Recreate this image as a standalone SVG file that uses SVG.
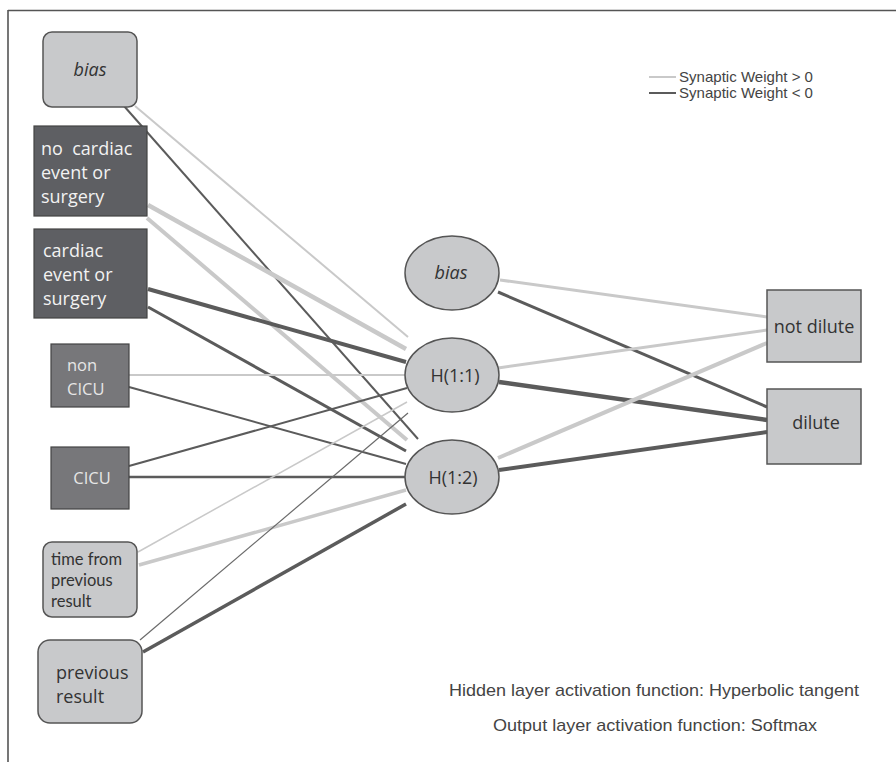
<svg xmlns="http://www.w3.org/2000/svg" width="896" height="762" viewBox="0 0 896 762">
<style>
.pos{stroke:#c9c9c9;fill:none;stroke-linecap:butt}
.neg{stroke:#5b5b5b;fill:none;stroke-linecap:butt}
.lt{fill:#c8c9cb;stroke:#555;stroke-width:1.5}
.dk{fill:#5e5f63;stroke:#444;stroke-width:1.2}
.md{fill:#77777a;stroke:#444;stroke-width:1.2}
.t{font-family:"Open Sans","Noto Sans",sans-serif;font-size:18px;fill:#333}
.ts{font-family:Lato,"Open Sans",sans-serif;font-size:16.5px;fill:#333}
.tw{font-family:"Open Sans","Noto Sans",sans-serif;font-size:18px;fill:#f2f2f2}
.tl{font-family:"Open Sans","Noto Sans",sans-serif;font-size:16.5px;fill:#e6e6e6}
.a{font-family:"Liberation Sans",Arial,sans-serif;fill:#444}
</style>
<rect width="896" height="762" fill="#fff"/>
<path d="M8 10.5H896M8 10V762" stroke="#555" stroke-width="1.6" fill="none"/>
<g id="connectors">
<line class="neg" x1="124" y1="106" x2="418" y2="439" stroke-width="2"/>
<line class="pos" x1="135" y1="106" x2="408" y2="337" stroke-width="2"/>
<line class="pos" x1="148" y1="205" x2="406" y2="349" stroke-width="4.5"/>
<line class="pos" x1="147" y1="218" x2="407" y2="440" stroke-width="4"/>
<line class="neg" x1="148" y1="289" x2="406" y2="362" stroke-width="4"/>
<line class="neg" x1="148" y1="307" x2="406" y2="451" stroke-width="3"/>
<line class="pos" x1="129" y1="375" x2="406" y2="375" stroke-width="2"/>
<line class="neg" x1="129" y1="387" x2="406" y2="464" stroke-width="2"/>
<line class="neg" x1="129" y1="466" x2="407" y2="388" stroke-width="2"/>
<line class="neg" x1="129" y1="477" x2="406" y2="477" stroke-width="2.5"/>
<line class="pos" x1="138" y1="552" x2="407" y2="402" stroke-width="1.5"/>
<line class="pos" x1="139" y1="565" x2="406" y2="490" stroke-width="3.5"/>
<line class="neg" x1="140" y1="640" x2="408" y2="413" stroke-width="1.2" style="stroke:#6a6a6a"/>
<line class="neg" x1="143" y1="652" x2="406" y2="504" stroke-width="3.5"/>
<line class="pos" x1="500" y1="280" x2="767" y2="317" stroke-width="3"/>
<line class="neg" x1="498" y1="292" x2="767" y2="407" stroke-width="3"/>
<line class="pos" x1="498" y1="368" x2="767" y2="330" stroke-width="3"/>
<line class="neg" x1="499" y1="382" x2="767" y2="420" stroke-width="4.5"/>
<line class="pos" x1="498" y1="458" x2="767" y2="343" stroke-width="4"/>
<line class="neg" x1="499" y1="470" x2="767" y2="432" stroke-width="4"/>
</g>
<g id="in-bias"><rect class="lt" x="43" y="32" width="94" height="75" rx="9"/><text class="t" x="90" y="76" text-anchor="middle" font-style="italic">bias</text></g>
<g id="in-nocardiac"><rect class="dk" x="34" y="126" width="113" height="90"/><text class="tw" x="41" y="155" xml:space="preserve">no  cardiac</text><text class="tw" x="41" y="179">event or</text><text class="tw" x="41" y="203">surgery</text></g>
<g id="in-cardiac"><rect class="dk" x="34" y="229" width="113" height="89"/><text class="tw" x="43" y="257">cardiac</text><text class="tw" x="43" y="281">event or</text><text class="tw" x="43" y="305">surgery</text></g>
<g id="in-noncicu"><rect class="md" x="51" y="344" width="78" height="63"/><text class="tl" x="67" y="371">non</text><text class="tl" x="67" y="395">CICU</text></g>
<g id="in-cicu"><rect class="md" x="51" y="447" width="78" height="62"/><text class="tl" x="92" y="484" text-anchor="middle" font-size="17">CICU</text></g>
<g id="in-time"><rect class="lt" x="43" y="542" width="94" height="75" rx="9"/><text class="ts" x="51" y="565">time from</text><text class="ts" x="51" y="586">previous</text><text class="ts" x="51" y="607">result</text></g>
<g id="in-prev"><rect class="lt" x="38" y="640" width="104" height="83" rx="12"/><text class="t" x="56" y="679">previous</text><text class="t" x="56" y="703">result</text></g>
<g id="h-bias"><ellipse class="lt" cx="452" cy="273" rx="47" ry="37"/><text class="t" x="451" y="279" text-anchor="middle" font-style="italic">bias</text></g>
<g id="h11"><ellipse class="lt" cx="452" cy="375" rx="47" ry="37"/><text class="t" x="455" y="382" text-anchor="middle" font-size="18.5">H(1:1)</text></g>
<g id="h12"><ellipse class="lt" cx="452" cy="477" rx="47" ry="37"/><text class="t" x="453" y="484" text-anchor="middle" font-size="18.5">H(1:2)</text></g>
<g id="o-notdilute"><rect class="lt" x="767" y="290" width="94" height="72"/><text class="t" x="814" y="333" text-anchor="middle" font-size="18.5">not dilute</text></g>
<g id="o-dilute"><rect class="lt" x="767" y="389" width="94" height="75"/><text class="t" x="816" y="429" text-anchor="middle" font-size="18.5">dilute</text></g>
<g id="legend">
<line x1="649" y1="77" x2="676" y2="77" stroke="#c9c9c9" stroke-width="2"/>
<line x1="649" y1="93" x2="676" y2="93" stroke="#5b5b5b" stroke-width="2"/>
<text class="a" x="679" y="82" font-size="15" textLength="134" lengthAdjust="spacingAndGlyphs">Synaptic Weight &gt; 0</text>
<text class="a" x="679" y="98" font-size="15" textLength="134" lengthAdjust="spacingAndGlyphs">Synaptic Weight &lt; 0</text>
</g>
<g id="notes">
<text class="a" x="449" y="696" font-size="17" textLength="410" lengthAdjust="spacingAndGlyphs">Hidden layer activation function: Hyperbolic tangent</text>
<text class="a" x="493" y="731" font-size="17" textLength="324" lengthAdjust="spacingAndGlyphs">Output layer activation function: Softmax</text>
</g>
</svg>
